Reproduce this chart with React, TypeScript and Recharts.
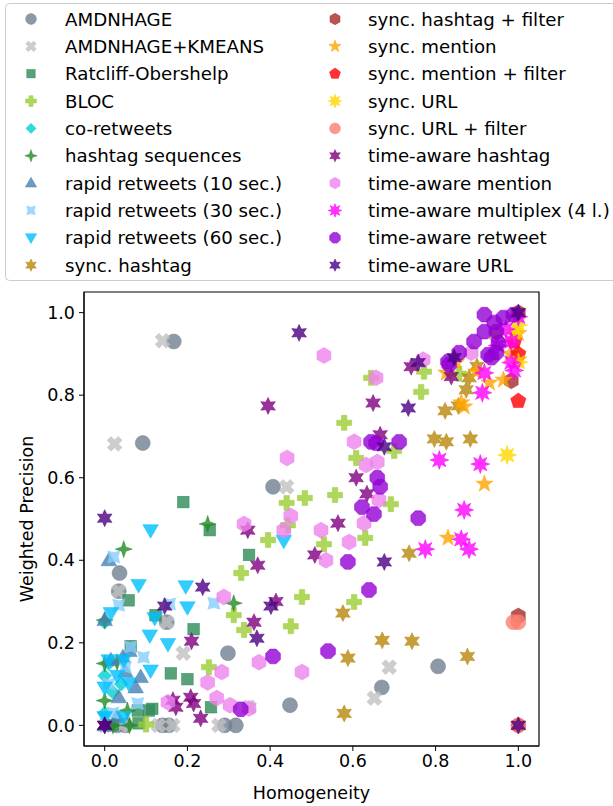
import React from 'react';
import { ScatterChart, Scatter, XAxis, YAxis, ReferenceArea, Label } from 'recharts';

type Pt = [number, number];

// values (Homogeneity, Weighted Precision)
const amdnhage: Pt[] = [[0.167,0.93],[0.092,0.684],[0.407,0.578],[0.036,0.369],[0.034,0.325],[0.15,0.25],[0.298,0.175],[0.448,0.049],[0.806,0.143],[0.67,0.092],[0.14,0.0],[0.155,0.0],[0.29,0.0],[0.317,0.0],[0.03,0.0],[0.05,0.0]];
const amdnhageKmeans: Pt[] = [[0.14,0.932],[0.024,0.682],[0.44,0.578],[0.034,0.325],[0.15,0.25],[0.19,0.175],[0.688,0.141],[0.652,0.066],[0.349,0.044],[0.276,0.0],[0.13,0.0],[0.165,0.0],[0.04,0.0],[0.0,0.0]];
const ratcliff: Pt[] = [[0.19,0.541],[0.254,0.473],[0.058,0.303],[0.349,0.413],[0.215,0.233],[0.123,0.267],[0.063,0.192],[0.16,0.126],[0.2,0.112],[0.257,0.044],[0.08,0.036],[0.107,0.036],[0.115,0.04],[0.082,0.005],[0.02,0.0]];
const bloc: Pt[] = [[0.44,0.539],[0.484,0.551],[0.557,0.558],[0.395,0.449],[0.53,0.439],[0.33,0.369],[0.477,0.311],[0.45,0.24],[0.312,0.267],[0.337,0.231],[0.252,0.141],[0.1,0.002],[0.443,0.485],[0.603,0.299],[0.692,0.536],[0.63,0.454],[0.644,0.842],[0.772,0.857],[0.857,0.852],[0.765,0.808],[0.579,0.733],[0.608,0.648],[0.7,0.665]];
const coRetweets: Pt[] = [[0.0,0.25],[0.0,0.12],[0.01,0.15],[0.02,0.08],[0.0,0.03],[0.04,0.1]];
const hashtagSeq: Pt[] = [[0.046,0.427],[0.249,0.488],[0.312,0.296],[0.0,0.255],[0.03,0.153],[0.0,0.06],[0.055,0.036],[0.0,0.15],[0.06,0.0],[0.02,0.0]];
const rapid10: Pt[] = [[0.01,0.4],[0.0,0.255],[0.044,0.165],[0.087,0.117],[0.034,0.068],[0.075,0.092],[0.015,0.158],[0.03,0.02],[0.0,0.0],[0.05,0.13],[0.06,0.18]];
const rapid30: Pt[] = [[0.022,0.408],[0.034,0.291],[0.157,0.294],[0.264,0.296],[0.094,0.165],[0.063,0.19],[0.05,0.141],[0.08,0.053],[0.01,0.1],[0.02,0.03]];
const rapid60: Pt[] = [[0.111,0.473],[0.082,0.34],[0.196,0.337],[0.2,0.286],[0.121,0.26],[0.109,0.218],[0.153,0.197],[0.433,0.447],[0.015,0.272],[0.111,0.133],[0.01,0.158],[0.058,0.102],[0.0,0.092],[0.046,0.158],[0.046,0.02],[0.0,0.02],[0.03,0.12]];
const syncHashtag: Pt[] = [[0.576,0.272],[0.588,0.163],[0.579,0.029],[0.736,0.417],[0.671,0.206],[0.743,0.204],[0.877,0.167],[0.797,0.694],[0.826,0.687],[0.884,0.694],[0.823,0.762],[0.855,0.774],[0.874,0.813],[0.881,0.842],[0.947,0.947],[0.9,0.87]];
const syncHashtagFilter: Pt[] = [[1.0,0.265],[0.983,0.835],[1.0,1.0],[1.0,0.0]];
const syncMention: Pt[] = [[0.918,0.585],[0.83,0.454],[0.869,0.772],[0.826,0.854],[0.898,0.857],[0.93,0.83],[0.964,0.837],[0.862,0.782],[1.0,0.886],[1.0,0.95],[0.98,0.9],[0.85,0.88]];
const syncMentionFilter: Pt[] = [[1.0,0.786],[1.0,0.9],[0.99,0.93]];
const syncUrl: Pt[] = [[0.973,0.655],[1.0,0.88],[0.99,0.95],[1.0,0.97]];
const syncUrlFilter: Pt[] = [[0.988,0.25],[1.0,0.25],[1.0,0.0]];
const taHashtag: Pt[] = [[0.395,0.774],[0.649,0.781],[0.608,0.6],[0.666,0.704],[0.741,0.869],[0.838,0.845],[0.346,0.473],[0.37,0.388],[0.361,0.25],[0.21,0.204],[0.564,0.49],[0.508,0.413],[0.414,0.3],[0.172,0.044],[0.208,0.068],[0.215,0.053],[0.232,0.017],[0.165,0.061],[0.634,0.561],[0.0,0.0]];
const taMention: Pt[] = [[0.53,0.896],[0.441,0.648],[0.656,0.842],[0.603,0.687],[0.632,0.631],[0.659,0.638],[0.77,0.886],[0.886,0.903],[0.337,0.488],[0.523,0.473],[0.535,0.4],[0.591,0.444],[0.433,0.473],[0.45,0.507],[0.373,0.153],[0.477,0.129],[0.288,0.311],[0.283,0.129],[0.249,0.104],[0.271,0.066],[0.303,0.049],[0.349,0.041],[0.153,0.056],[0.627,0.49],[0.663,0.546]];
const taMultiplex: Pt[] = [[0.869,0.522],[0.775,0.427],[0.862,0.451],[0.881,0.427],[0.809,0.643],[0.908,0.633],[0.913,0.806],[0.918,0.854],[0.983,0.879],[0.983,0.93],[0.97,0.96],[1.0,0.99],[0.95,0.92],[0.99,0.86]];
const taRetweet: Pt[] = [[0.918,0.995],[0.942,0.976],[0.964,0.988],[0.988,0.995],[0.918,0.954],[0.947,0.954],[0.893,0.93],[0.952,0.927],[0.927,0.898],[0.947,0.903],[0.857,0.903],[0.83,0.881],[0.656,0.684],[0.712,0.687],[0.644,0.687],[0.659,0.6],[0.666,0.578],[0.622,0.529],[0.651,0.512],[0.758,0.502],[0.588,0.396],[0.639,0.328],[0.407,0.167],[0.54,0.18],[0.329,0.039],[0.935,0.891],[0.833,0.874]];
const taUrl: Pt[] = [[0.47,0.951],[1.0,1.0],[0.734,0.769],[0.758,0.879],[0.845,0.891],[0.676,0.675],[0.0,0.502],[0.237,0.335],[0.145,0.289],[0.368,0.211],[0.402,0.289],[0.0,0.0],[0.676,0.396],[1.0,0.0]];

const ticks = [0, 0.2, 0.4, 0.6, 0.8, 1.0];

type Kind = 'circle' | 'xcross' | 'square' | 'plus' | 'diamond' | 'star4' | 'triUp' | 'star4r' | 'triDown'
  | 'star6' | 'hex' | 'star5' | 'pent' | 'star8' | 'oct';

const series: { name: string; data: Pt[]; color: string; kind: Kind }[] = [
  { name: 'AMDNHAGE', data: amdnhage, color: '#708090', kind: 'circle' },
  { name: 'AMDNHAGE+KMEANS', data: amdnhageKmeans, color: '#c0c0c0', kind: 'xcross' },
  { name: 'Ratcliff-Obershelp', data: ratcliff, color: '#2e8b57', kind: 'square' },
  { name: 'BLOC', data: bloc, color: '#9acd32', kind: 'plus' },
  { name: 'co-retweets', data: coRetweets, color: '#00ced1', kind: 'diamond' },
  { name: 'hashtag sequences', data: hashtagSeq, color: '#228b22', kind: 'star4' },
  { name: 'rapid retweets (10 sec.)', data: rapid10, color: '#4682b4', kind: 'triUp' },
  { name: 'rapid retweets (30 sec.)', data: rapid30, color: '#87cefa', kind: 'star4r' },
  { name: 'rapid retweets (60 sec.)', data: rapid60, color: '#00bfff', kind: 'triDown' },
  { name: 'sync. hashtag', data: syncHashtag, color: '#b8860b', kind: 'star6' },
  { name: 'sync. hashtag + filter', data: syncHashtagFilter, color: '#a52a2a', kind: 'hex' },
  { name: 'sync. mention', data: syncMention, color: '#ffa500', kind: 'star5' },
  { name: 'sync. mention + filter', data: syncMentionFilter, color: '#ff0000', kind: 'pent' },
  { name: 'sync. URL', data: syncUrl, color: '#ffd700', kind: 'star8' },
  { name: 'sync. URL + filter', data: syncUrlFilter, color: '#fa8072', kind: 'circle' },
  { name: 'time-aware hashtag', data: taHashtag, color: '#800080', kind: 'star6' },
  { name: 'time-aware mention', data: taMention, color: '#ee82ee', kind: 'hex' },
  { name: 'time-aware multiplex (4 l.)', data: taMultiplex, color: '#ff00ff', kind: 'star8' },
  { name: 'time-aware retweet', data: taRetweet, color: '#9400d3', kind: 'oct' },
  { name: 'time-aware URL', data: taUrl, color: '#4b0082', kind: 'star6' },
];

const FONT = 'DejaVu Sans, sans-serif';

const poly = (cx: number, cy: number, n: number, r: number, rot = 0) => {
  const p: string[] = [];
  for (let i = 0; i < n; i++) {
    const a = ((rot + (i * 360) / n - 90) * Math.PI) / 180;
    p.push(`${cx + r * Math.cos(a)},${cy + r * Math.sin(a)}`);
  }
  return p.join(' ');
};

const star = (cx: number, cy: number, n: number, ro: number, ri: number, rot = 0) => {
  const p: string[] = [];
  for (let i = 0; i < 2 * n; i++) {
    const r = i % 2 ? ri : ro;
    const a = ((rot + (i * 180) / n - 90) * Math.PI) / 180;
    p.push(`${cx + r * Math.cos(a)},${cy + r * Math.sin(a)}`);
  }
  return p.join(' ');
};

const cross = (cx: number, cy: number, l: number, w: number, rot: number) => {
  const base: Pt[] = [[-w,-l],[w,-l],[w,-w],[l,-w],[l,w],[w,w],[w,l],[-w,l],[-w,w],[-l,w],[-l,-w],[-w,-w]];
  const a = (rot * Math.PI) / 180;
  return base.map(([x, y]) => `${cx + x * Math.cos(a) - y * Math.sin(a)},${cy + x * Math.sin(a) + y * Math.cos(a)}`).join(' ');
};

const Marker = ({ kind, x, y, color, k = 1 }: { kind: Kind; x: number; y: number; color: string; k?: number }) => {
  const common = { fill: color, fillOpacity: 0.8, stroke: color, strokeOpacity: 0.8, strokeWidth: 0.6 };
  switch (kind) {
    case 'circle': return <circle cx={x} cy={y} r={7.5 * k} {...common} />;
    case 'xcross': return <polygon points={cross(x, y, 7.8 * k, 2.7 * k, 45)} {...common} />;
    case 'square': return <rect x={x - 5.8 * k} y={y - 5.8 * k} width={11.6 * k} height={11.6 * k} {...common} />;
    case 'plus': return <polygon points={cross(x, y, 7.5 * k, 2.7 * k, 0)} {...common} />;
    case 'diamond': return <polygon points={poly(x, y, 4, 7 * k)} {...common} />;
    case 'star4': return <polygon points={star(x, y, 4, 8.5 * k, 3 * k)} {...common} />;
    case 'triUp': return <polygon points={poly(x, y + 1 * k, 3, 9 * k)} {...common} />;
    case 'star4r': return <polygon points={star(x, y, 4, 8.5 * k, 4.4 * k, 45)} {...common} />;
    case 'triDown': return <polygon points={poly(x, y - 1 * k, 3, 9 * k, 180)} {...common} />;
    case 'star6': return <polygon points={star(x, y, 6, 8.5 * k, 4.4 * k)} {...common} />;
    case 'hex': return <polygon points={poly(x, y, 6, 8 * k)} {...common} />;
    case 'star5': return <polygon points={star(x, y, 5, 9 * k, 3.6 * k)} {...common} />;
    case 'pent': return <polygon points={poly(x, y, 5, 8 * k)} {...common} />;
    case 'star8': return <polygon points={star(x, y, 8, 9.5 * k, 4.8 * k)} {...common} />;
    case 'oct': return <polygon points={poly(x, y, 8, 8 * k, 22.5)} {...common} />;
    default: return null;
  }
};

const Legend = () => {
  const half = 10;
  return (
    <svg width={613} height={290} style={{ position: 'absolute', left: 0, top: 0 }}>
      <rect x={5.5} y={3.5} width={640} height={277} rx={4} fill="#fff" fillOpacity={0.8} stroke="#cccccc" />
      {series.map((s, i) => {
        const col = i < half ? 0 : 1;
        const row = i % half;
        const cy = 19 + row * 27.35;
        const mx = col === 0 ? 31 : 335;
        const tx = col === 0 ? 65 : 368;
        return (
          <g key={s.name}>
            <Marker kind={s.kind} x={mx} y={cy} color={s.color} k={0.72} />
            <text x={tx} y={cy} dominantBaseline="central" fontSize={18.2} fontFamily={FONT} fill="#000">{s.name}</text>
          </g>
        );
      })}
    </svg>
  );
};

export default function App() {
  const tickStyle = { fontSize: 17.5, fill: '#000', fontFamily: FONT };
  return (
    <div style={{ position: 'absolute', left: 0, top: 0, width: 613, height: 806, background: '#fff' }}>
      <ScatterChart width={613} height={806} margin={{ top: 292, right: 74, bottom: 10, left: 20 }}>
        <XAxis
          type="number"
          dataKey="x"
          domain={[-0.05, 1.05]}
          ticks={ticks}
          allowDataOverflow
          tickFormatter={(v: number) => v.toFixed(1)}
          tick={tickStyle}
          tickSize={5}
          tickMargin={4}
          height={50}
          stroke="#000"
        >
          <Label value="Homogeneity" position="insideBottom" offset={-3} style={{ fontSize: 17.5, fill: '#000', fontFamily: FONT }} />
        </XAxis>
        <YAxis
          type="number"
          dataKey="y"
          domain={[-0.05, 1.05]}
          ticks={ticks}
          allowDataOverflow
          tickFormatter={(v: number) => v.toFixed(1)}
          tick={tickStyle}
          tickSize={5}
          tickMargin={4}
          width={64}
          stroke="#000"
        >
          <Label
            content={(p: any) => {
              const vb = p.viewBox || { x: 20, y: 292, width: 64, height: 454 };
              const cx = vb.x + 7;
              const cy = vb.y + vb.height / 2;
              return (
                <text x={cx} y={cy} transform={`rotate(-90, ${cx}, ${cy})`} textAnchor="middle" dominantBaseline="central"
                  fontSize={17.5} fontFamily={FONT} fill="#000">Weighted Precision</text>
              );
            }}
          />
        </YAxis>
        {series.map((s) => (
          <Scatter
            key={s.name}
            name={s.name}
            data={s.data.map(([x, y]) => ({ x, y }))}
            isAnimationActive={false}
            shape={(p: any) => <Marker kind={s.kind} x={p.cx} y={p.cy} color={s.color} />}
          />
        ))}
        <ReferenceArea x1={-0.05} x2={1.05} y1={-0.05} y2={1.05} fill="none" stroke="#000" strokeWidth={1.2} ifOverflow="visible" />
      </ScatterChart>
      <Legend />
    </div>
  );
}
